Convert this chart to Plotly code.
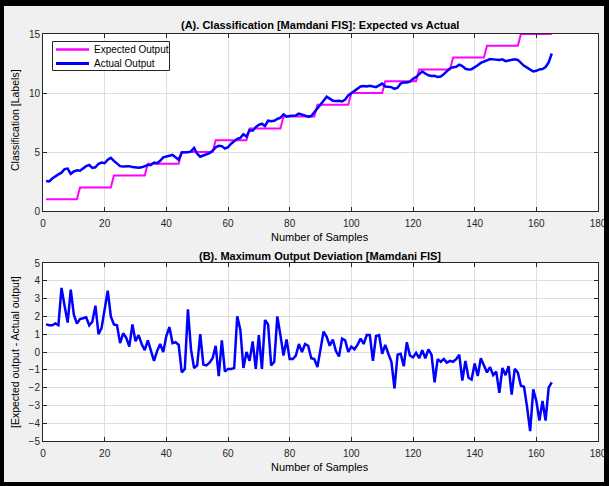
import plotly.graph_objects as go

# Sample index (1..165)
samples = list(range(1, 166))

# Expected class label for each sample (15 classes, 11 samples each)
expected_output = [
    1, 1, 1, 1, 1, 1, 1, 1, 1, 1, 1,
    2, 2, 2, 2, 2, 2, 2, 2, 2, 2, 2,
    3, 3, 3, 3, 3, 3, 3, 3, 3, 3, 3,
    4, 4, 4, 4, 4, 4, 4, 4, 4, 4, 4,
    5, 5, 5, 5, 5, 5, 5, 5, 5, 5, 5,
    6, 6, 6, 6, 6, 6, 6, 6, 6, 6, 6,
    7, 7, 7, 7, 7, 7, 7, 7, 7, 7, 7,
    8, 8, 8, 8, 8, 8, 8, 8, 8, 8, 8,
    9, 9, 9, 9, 9, 9, 9, 9, 9, 9, 9,
    10, 10, 10, 10, 10, 10, 10, 10, 10, 10, 10,
    11, 11, 11, 11, 11, 11, 11, 11, 11, 11, 11,
    12, 12, 12, 12, 12, 12, 12, 12, 12, 12, 12,
    13, 13, 13, 13, 13, 13, 13, 13, 13, 13, 13,
    14, 14, 14, 14, 14, 14, 14, 14, 14, 14, 14,
    15, 15, 15, 15, 15, 15, 15, 15, 15, 15, 15,
]

# Mamdani FIS output for each sample
actual_output = [
    2.55, 2.50, 2.75, 2.95, 3.10, 3.25, 3.55, 3.60, 3.15, 3.35,
    3.45, 3.42, 3.60, 3.80, 3.90, 3.65, 3.70, 4.00, 4.10, 4.05,
    4.35, 4.50, 4.25, 4.00, 3.80, 3.78, 3.80, 3.80, 3.72, 3.67,
    3.67, 3.70, 3.80, 3.90, 3.90, 4.10, 4.05, 4.25, 4.55, 4.60,
    4.65, 4.75, 4.55, 4.35, 4.95, 4.95, 4.97, 5.05, 5.35, 4.85,
    4.60, 4.70, 4.80, 4.90, 5.10, 5.40, 5.52, 5.50, 5.30, 5.40,
    5.70, 5.95, 6.12, 6.20, 6.50, 6.30, 6.85, 6.80, 7.10, 7.30,
    7.40, 7.20, 7.65, 7.60, 7.65, 7.80, 7.90, 8.19, 8.00, 8.05,
    8.05, 8.10, 8.25, 8.18, 8.05, 8.00, 8.05, 8.40, 8.70, 9.05,
    9.35, 9.69, 9.55, 9.35, 9.32, 9.35, 9.28, 9.45, 9.80, 10.00,
    10.20, 10.40, 10.55, 10.60, 10.55, 10.62, 10.55, 10.50, 10.65, 10.80,
    10.55, 10.50, 10.50, 10.35, 10.45, 10.80, 10.90, 10.90, 10.96, 11.20,
    11.35, 11.60, 11.82, 11.65, 11.50, 11.45, 11.46, 11.35, 11.40, 11.60,
    11.85, 12.09, 12.18, 12.22, 12.40, 12.28, 12.05, 12.00, 12.02, 12.15,
    12.35, 12.55, 12.68, 12.80, 12.88, 12.85, 12.80, 12.80, 12.85, 12.70,
    12.75, 12.80, 12.85, 12.80, 12.55, 12.30, 12.15, 12.00, 11.82, 11.88,
    12.00, 12.03, 12.20, 12.60, 13.35,
]

# Maximum output deviation per sample
max_deviation = [
    1.55, 1.50, 1.50, 1.60, 1.50, 3.60, 2.60, 1.65, 3.50, 2.10,
    1.60, 1.85, 1.90, 1.95, 1.50, 1.70, 2.60, 1.00, 1.35, 2.40,
    3.45, 2.00, 1.55, 1.50, 0.50, 1.05, 0.80, 0.30, 1.55, 0.60,
    0.95, 0.45, 0.10, 0.65, 0.00, -0.50, 0.05, 0.45, 0.00, 0.90,
    1.40, 0.50, 0.55, 0.40, -1.15, -0.95, 2.40, 0.15, -0.90, -0.75,
    1.00, -0.70, -0.75, -0.60, -0.35, 0.35, -1.35, 0.65, -1.10, -0.95,
    -0.95, -0.90, 2.00, 1.25, -0.90, 0.00, -0.50, 0.60, -0.95, 0.95,
    -0.95, 1.80, 1.55, -0.75, -0.55, 2.00, 0.95, -0.20, 0.70, -0.40,
    -0.40, -0.20, 0.45, 0.00, 0.45, 0.35, -0.35, -0.40, -0.85, 0.20,
    1.15, 0.85, 0.35, 0.70, 0.05, -0.25, 0.75, 0.65, 0.00, 0.30,
    0.15, 0.40, 0.75, 0.45, 0.95, 0.95, -0.50, 0.90, 0.95, -0.10,
    0.40, -0.10, -0.55, -2.05, -0.15, -0.10, -0.80, 0.55, -0.20, -0.30,
    -0.05, -0.35, 0.10, -0.35, 0.15, -0.15, -1.70, -0.40, -0.55, -0.40,
    -0.60, -0.50, -0.55, -0.40, -0.15, -1.60, -0.50, -1.45, -1.55, -0.65,
    -1.35, -0.35, -0.75, -1.15, -0.85, -1.30, -1.10, -2.30, -0.90, -1.30,
    -0.80, -2.40, -0.95, -1.15, -1.90, -1.95, -3.10, -4.45, -2.10, -2.75,
    -3.85, -2.75, -3.85, -2.00, -1.70,
]

x_ticks = [0, 20, 40, 60, 80, 100, 120, 140, 160, 180]
y_ticks_top = [0, 5, 10, 15]
y_ticks_bottom = [-5, -4, -3, -2, -1, 0, 1, 2, 3, 4, 5]

series_names = ["Expected Output", "Actual Output"]
series_colors = ["#ff00ff", "#0000ff"]
series_widths = [2, 2.5]

FONT = "Liberation Sans, Arial, Helvetica, sans-serif"
W, H = 609, 486
ML, MR, MT, MB = 43, 11, 34, 45
PW, PH = W - ML - MR, H - MT - MB


def px_x(p):
    return (p - ML) / PW


def px_y(p):
    return (H - MB - p) / PH


fig = go.Figure()

for name, ys, color, width in zip(series_names, [expected_output, actual_output],
                                  series_colors, series_widths):
    fig.add_trace(go.Scatter(
        x=samples, y=ys, mode="lines", name=name,
        line=dict(color=color, width=width), xaxis="x", yaxis="y",
    ))
fig.add_trace(go.Scatter(
    x=samples, y=max_deviation, mode="lines", name="Deviation",
    line=dict(color="#0000ff", width=2.5), xaxis="x2", yaxis="y2",
))

axis_common = dict(
    showline=True, linecolor="#262626", linewidth=1, mirror="ticks",
    ticks="inside", ticklen=4, tickcolor="#262626",
    showgrid=True, gridcolor="#dedede", gridwidth=1,
    zeroline=False, automargin=False,
    tickfont=dict(family=FONT, size=10, color="#262626"),
)

fig.update_layout(
    width=W, height=H,
    margin=dict(l=ML, r=MR, t=MT, b=MB, autoexpand=False),
    paper_bgcolor="#f0f0f0", plot_bgcolor="#ffffff",
    font=dict(family=FONT, color="#262626"),
    xaxis=dict(axis_common, range=[0, 180], tickvals=x_ticks,
               domain=[0, 1], anchor="y", ticklabelstandoff=3),
    yaxis=dict(axis_common, range=[0, 15], tickvals=y_ticks_top,
               domain=[px_y(211), 1], anchor="x"),
    xaxis2=dict(axis_common, range=[0, 180], tickvals=x_ticks,
                domain=[0, 1], anchor="y2", ticklabelstandoff=3),
    yaxis2=dict(axis_common, range=[-5, 5], tickvals=y_ticks_bottom,
                domain=[0, px_y(263)], anchor="x2"),
    showlegend=False,
)

annotations = [
    dict(text="<b>(A). Classification [Mamdani FIS]: Expected vs Actual</b>",
         x=px_x(320), y=px_y(25), size=11),
    dict(text="<b>(B). Maximum Output Deviation [Mamdani FIS]</b>",
         x=px_x(320), y=px_y(256), size=11),
    dict(text="Number of Samples", x=px_x(320), y=px_y(237), size=11),
    dict(text="Number of Samples", x=px_x(320), y=px_y(467), size=11),
    dict(text="Classification [Labels]", x=px_x(15), y=px_y(120),
         size=10.5, angle=-90),
    dict(text="[Expected output - Actual output]", x=px_x(15), y=px_y(352),
         size=10.5, angle=-90),
]
for a in annotations:
    fig.add_annotation(
        text=a["text"], x=a["x"], y=a["y"], xref="paper", yref="paper",
        xanchor="center", yanchor="middle", showarrow=False,
        textangle=a.get("angle", 0),
        font=dict(family=FONT, size=a["size"], color="#000000"),
    )

# Legend box in the upper-left corner of the top panel
fig.add_shape(
    type="rect", xref="paper", yref="paper",
    x0=px_x(52.5), x1=px_x(169.5), y0=px_y(70.5), y1=px_y(41.5),
    fillcolor="#ffffff", line=dict(color="#262626", width=1), layer="above",
)
for i, (name, color, width) in enumerate(zip(series_names, series_colors,
                                              series_widths)):
    yy = px_y(49.5 + 14 * i)
    fig.add_shape(
        type="line", xref="paper", yref="paper",
        x0=px_x(56), x1=px_x(89), y0=yy, y1=yy,
        line=dict(color=color, width=width + 0.5), layer="above",
    )
    fig.add_annotation(
        text=name, x=px_x(92), y=yy, xref="paper", yref="paper",
        xanchor="left", yanchor="middle", showarrow=False,
        font=dict(family=FONT, size=10, color="#000000"),
    )

# Black frame around the whole figure
frame = [(0, 0, W, 6), (0, 0, 4, H), (W - 5, 0, W, H), (0, H - 4, W, H)]
for x0, y0, x1, y1 in frame:
    fig.add_shape(
        type="rect", xref="paper", yref="paper",
        x0=px_x(x0), x1=px_x(x1), y0=px_y(y1), y1=px_y(y0),
        fillcolor="#000000", line=dict(width=0), layer="above",
    )

fig.write_html("out.html")
